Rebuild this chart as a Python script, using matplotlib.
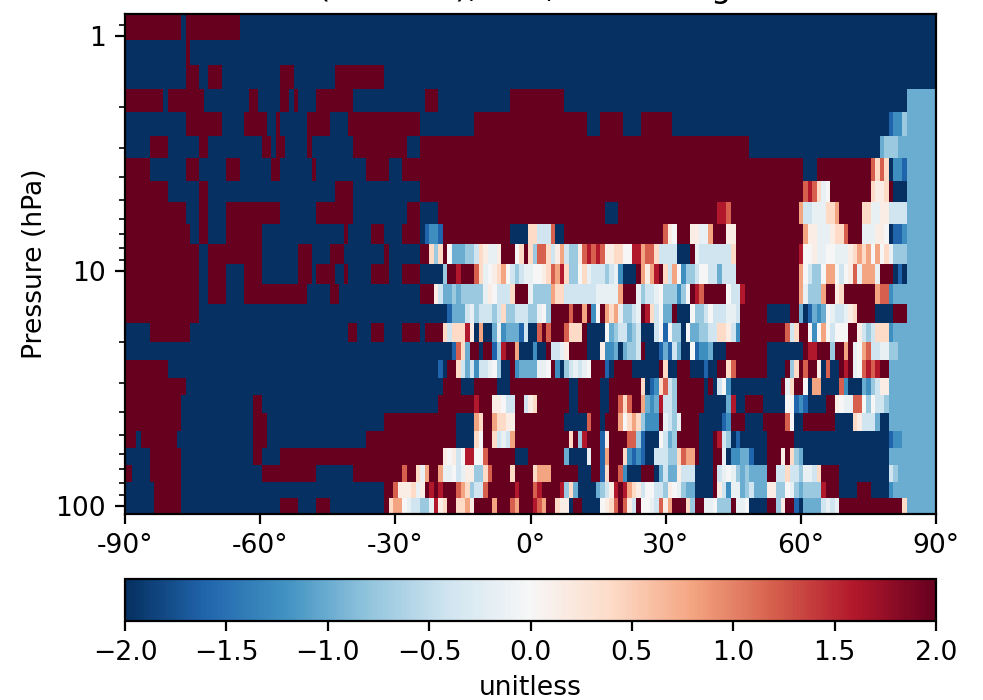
import re
import numpy as np
import matplotlib
matplotlib.use("Agg")
import matplotlib.pyplot as plt
from matplotlib.ticker import FixedLocator, FuncFormatter, LogLocator, NullFormatter

plt.rcParams["font.size"] = 9.6

# colour codes -> value
codes = {"N": -2.0, "b": -1.6, "c": -1.25, "d": -1.0, "e": -0.75, "f": -0.4, "g": -0.15,
         "w": 0.0, "h": 0.15, "i": 0.4, "j": 0.8, "k": 1.2, "l": 1.6, "R": 2.0}

# pressure level edges (hPa), top to bottom
plev_edges = [0.806, 1.04, 1.329, 1.683, 2.11, 2.67, 3.31, 4.16, 5.10, 6.33, 7.70, 9.38, 11.4,
              13.8, 16.6, 20.0, 23.9, 28.7, 33.9, 40.4, 47.9, 56.7, 67.1, 79.4, 93.0, 108.0]

# one string per level: code + end column of the run, a bare code is one column
rows = [
    "R12 N13 R25 N180",
    "N13 R14 N180",
    "N13 R16 N18 R21 N34 R37 N46 R57 N180",
    "R8 N9 R17 N27 R29 N34 R36 N37 R38 N42 R50 N66 R69 N85 R97 N173 d180",
    "N13 R21 N26 R31 N33 R34 N40 R45 N49 R65 N77 R102 N105 R110 N114 R121 N169 b c c e d180",
    "N5 R9 N16 R18 N30 R32 N33 R35 N40 R41 N50 R62 N65 R138 N167 d e e e d180",
    "R5 N13 R16 N22 R25 N32 R34 N41 R42 N53 R58 N61 R150 N153 R165 k i k i N c c b d180",
    "R9 N16 R18 N46 R50 N65 R150 k l k i g w R165 i h h i R N173 d180",
    "R13 N16 R18 N22 R34 N42 R50 N62 R65 N69 R106 N109 R131 l l k R149 j f f g g g i i j R163 i i g g h h f f f f d180",
    "R14 N16 R18 N22 R30 N48 R49 N54 R57 N61 R65 N b c c b R85 N89 i i f f f k N97 R119 k h w R125 h h g g j R133 h h R150 j h h g g g h i i k R163 g g g h h w N b b c d180",
    "R16 N18 R30 N38 R41 N45 R48 N57 R58 N65 R67 i e i R w d d d e e f i h g g h R86 w i R i e k k i f h j f e e h k l k l k h h i i w w l l j k k i f f f f N125 R g f134 i R149 l w w h g g w w g g g h i j i j w j w i g e173 d180",
    "R16 N18 R22 N26 R30 N38 R41 N42 R46 N48 R49 N54 R58 N61 R65 N70 e R R l R R R k i g w h i j w f e f g g w w h i k j l i e e w i g f f f e f g c N113 R j h j l R i f j w c e e f w w f f d f f f R149 j w f e e w j j w f w h k g j j j g R170 N b N d180",
    "R16 N18 R22 N26 R40 N45 R47 N65 R68 h f d d e d e79 g h w f f f i R89 g e e e e j i i f103 f g109 j R113 g e f f g w e e e c e w R l k R133 w f f l R149 j g e e e j R157 h i R166 j k k c d180",
    "R16 N71 b d d d f g e f f f e f i e e f f f e e g w e R98 k R R j R c w R j i j g e e f g R l i f w d d R N125 w e e f w f f f g g f R142 N147 R149 d N b d c d w g f f g h i R166 N170 R173 d180",
    "N5 R14 N49 R51 N54 R57 N61 R65 N R70 i f i i i l h N j N N d g c d d d b f N N k R k R R R k i i i R N106 w d e f f d e f N117 f w b w e e N w d d e e f f i i h f c R146 k f i R R w c w j w f w w w R R h f e f i i i c d180",
    "N72 b k i d R R N R R b e l R R j N N N c N N R f f g h R102 N105 h c c d N d e e f R N118 b d b f d N N w b c c d N133 R142 N150 R l l R156 e R R j R g w j k f f g g e e d180",
    "R9 N69 b N R R i f d f c f f g w e N N R c d d d d g g w R c N e f g f g w R106 b N R112 N118 R i N122 R125 N128 b N N R R i k R142 N146 R e i R k R R h N k N N R l R g w k l k l R R d180",
    "R13 N70 R74 N77 R82 N85 R98 N100 R105 N107 R114 i N b c i k f e R128 N R N f w c N145 R g i R R w N j j N158 k c N163 d c e f h h d180",
    "R12 N28 R30 N69 R77 l R81 h h w f f R R f h i R98 N100 R105 N107 R109 k i k R R j d c d l f f e R128 N133 d l N N R141 N146 w w b c b N155 R R h w g g k k w e w f f e d180",
    "R12 N28 R31 N57 R73 N77 j i R R j i i h h R97 N102 k R R N R109 j w i j i e c c c R g f e g R127 N132 b c R137 N141 R146 k w N N R157 N161 i h f f f d N169 d180",
    "R2 N3 R11 N28 R31 N53 R73 N77 i w R R i f g f j R98 i R e l R R R b h R111 k k e b N118 w f d e R127 N130 R l f e N b N142 R148 N169 b c c d d180",
    "N5 R12 N28 R30 N34 R70 h w h f w l l w w k R86 N89 R97 d N102 g R R b j R110 i c b c b N N f f f e e i k j j R N130 R R g N c c d d b N142 R145 h R i e d N169 d180",
    "R N5 R12 N30 R42 N50 R61 k R R i g j R R j g g w f g h h e e i k R85 i R90 i j j j R100 N103 R R b i R R k c N114 R117 N d f d d h f f f N130 R f g w g e d e d142 R R f f i f f e g g f i R158 N169 f e d180",
    "N6 R12 N57 R59 k h h h i g h R l R l R R R k j i e f f k R86 l R90 k l R96 l e i d N104 d e f h l R l j i h f w w f f e h w g e d d N130 R h f c g g d e f d142 h h e e w g e d e154 l R158 N162 R165 N169 c d180",
    "N6 R12 N34 R38 N42 R45 N57 R58 i j j w g f f e e g l h i R R i i j h R81 j R85 k j R90 l k j R R i h h N R R N105 w h i k R k h f R w w g f k h j R124 i e R R g g w e e e R g g w N142 R R e h R R b N d d d d f g f g R172 i d180",
]

xtick_vals = [-90, -60, -30, 0, 30, 60, 90]
ytick_vals = [1, 10, 100]
cbar_ticks = [-2.0, -1.5, -1.0, -0.5, 0.0, 0.5, 1.0, 1.5, 2.0]


def parse_row(text):
    out = []
    for code, end in re.findall(r"([A-Za-z])(\d*)", text):
        if end:
            out += [codes[code]] * (int(end) - len(out))
        else:
            out.append(codes[code])
    if len(out) != 180:
        print("bad row length", len(out), text[:30])
    # first cell is only half inside the axes
    return [out[0]] + out[:180]


data = np.array([parse_row(r) for r in rows])
lat_edges = np.arange(-90.5, 91.0, 1.0)

W, H = 983, 700
fig = plt.figure(figsize=(W / 200, H / 200), dpi=200)
ax = fig.add_axes([125 / W, 1 - 513.5 / H, 811 / W, 499.5 / H])
mesh = ax.pcolormesh(lat_edges, plev_edges, data, cmap="RdBu_r", vmin=-2, vmax=2, shading="flat")
ax.set_yscale("log")
ax.set_xlim(-90, 90)
ax.set_ylim(108.0, 0.806)
ax.set_xticks(xtick_vals)
ax.set_xticklabels(["%d°" % v for v in xtick_vals])
ax.yaxis.set_major_locator(FixedLocator(ytick_vals))
ax.yaxis.set_major_formatter(FuncFormatter(lambda v, p: "%d" % v))
ax.yaxis.set_minor_locator(LogLocator(base=10, subs=range(2, 10), numticks=12))
ax.yaxis.set_minor_formatter(NullFormatter())
ax.set_ylabel("Pressure (hPa)", labelpad=2.5)
ax.set_title("Ratio (unitless), Feb, increasing levels", fontsize=11.6)

cax = fig.add_axes([125 / W, 1 - 621 / H, 811 / W, 42 / H])
cbar = fig.colorbar(mesh, cax=cax, orientation="horizontal")
cbar.set_ticks(cbar_ticks)
cbar.set_label("unitless", labelpad=3)

fig.savefig("out.png", dpi=200)
